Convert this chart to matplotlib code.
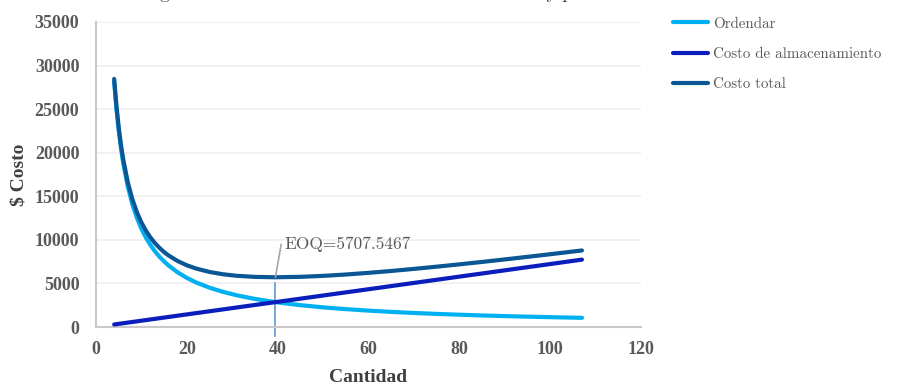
import matplotlib
matplotlib.use("Agg")
import matplotlib.pyplot as plt

# Order quantity and cost components
cantidad = [4, 4.5, 5, 5.5, 6, 7, 8, 9, 10, 11, 12, 13, 14, 15, 16, 18, 20, 22, 25, 28,
            31, 35, 39.5, 45, 50, 55, 60, 65, 70, 75, 80, 85, 90, 95, 100, 107]
ordenar = [28181, 25050, 22545, 20495, 18787, 16103, 14091, 12525, 11272, 10248, 9394,
           8671, 8052, 7515, 7045, 6262, 5636, 5124, 4509, 4026, 3636, 3221, 2854, 2505,
           2254, 2050, 1879, 1734, 1610, 1503, 1409, 1326, 1252, 1187, 1127, 1053]
almacenamiento = [289, 325, 361, 397, 434, 506, 578, 650, 723, 795, 867, 939, 1012, 1084,
                  1156, 1301, 1445, 1590, 1806, 2023, 2240, 2529, 2854, 3251, 3613, 3974,
                  4335, 4696, 5058, 5419, 5780, 6141, 6503, 6864, 7225, 7731]
total = [28470, 25375, 22906, 20892, 19221, 16609, 14669, 13175, 11995, 11043, 10261,
         9610, 9064, 8599, 8201, 7563, 7081, 6714, 6315, 6049, 5876, 5750, 5708, 5756,
         5867, 6024, 6214, 6430, 6668, 6922, 7189, 7467, 7755, 8051, 8352, 8784]

eoq_q = 39.5
eoq_costo = 5707.5467
series_labels = ["Ordendar", "Costo de almacenamiento", "Costo total"]
titulo = "Diagrama de costos totales de ordenar e inventario y pedido"

x_ticks = [0, 20, 40, 60, 80, 100, 120]
y_ticks = [0, 5000, 10000, 15000, 20000, 25000, 30000, 35000]

fig = plt.figure(figsize=(9, 3.85), dpi=100)
ax = fig.add_axes([96 / 900, 1 - 327 / 385, 545 / 900, 305 / 385])

c_ord = "#00B0F0"
c_alm = "#0A1EBE"
c_tot = "#0B5796"
ax.plot(cantidad, ordenar, color=c_ord, lw=3, solid_capstyle="round", label=series_labels[0], zorder=3)
ax.plot(cantidad, almacenamiento, color=c_alm, lw=3, solid_capstyle="round", label=series_labels[1], zorder=4)
ax.plot(cantidad, total, color=c_tot, lw=3, solid_capstyle="round", label=series_labels[2], zorder=5)

# EOQ marker and annotation
ax.plot([eoq_q, eoq_q], [-1000, 5000], color="#5B9BD5", lw=1.2, clip_on=False, zorder=2)
ax.annotate(f"EOQ={eoq_costo}", xy=(eoq_q, eoq_costo), xytext=(eoq_q + 1.9, 9500),
            textcoords="data", fontsize=12.5, family="cmr10", color="#595959",
            va="center", ha="left",
            arrowprops=dict(arrowstyle="-", color="#A6A6A6", lw=1.2,
                            connectionstyle="angle,angleA=0,angleB=80,rad=0",
                            shrinkA=0, shrinkB=0), zorder=6)

ax.set_xlim(0, 120)
ax.set_ylim(0, 35000)
ax.set_xticks(x_ticks)
ax.set_yticks(y_ticks)
ax.grid(axis="y", color="#EFEFEF", lw=1.2)
ax.set_axisbelow(True)
for side in ["top", "right"]:
    ax.spines[side].set_visible(False)
for side in ["left", "bottom"]:
    ax.spines[side].set_color("#C8C8C8")
    ax.spines[side].set_linewidth(1.5)
ax.tick_params(length=0, colors="#595959", labelsize=13)
ax.tick_params(axis="y", pad=12)
ax.tick_params(axis="x", pad=10)
for lab in ax.get_xticklabels() + ax.get_yticklabels():
    lab.set_family("Liberation Serif")
    lab.set_fontweight("bold")

ax.set_xlabel("Cantidad", family="Liberation Serif", fontweight="bold", fontsize=14,
              color="#404040", labelpad=8)
ax.set_ylabel("$ Costo", family="Liberation Serif", fontweight="bold", fontsize=14,
              color="#404040", labelpad=5)

fig.legend(loc="upper left", bbox_to_anchor=(667 / 900, 1 - 11 / 385), frameon=False,
           prop={"family": "cmr10", "size": 10.8}, labelcolor="#595959",
           handlelength=2.3, handletextpad=0.35, labelspacing=1.1, borderaxespad=0)

# Heading sits above the canvas edge; only its lower strokes fall inside
fig.text(132 / 900, 1 + 1 / 385, titulo, family="cmr10", fontsize=13.2, color="#404040",
         ha="left", va="baseline")

fig.savefig("out.png", dpi=100)
